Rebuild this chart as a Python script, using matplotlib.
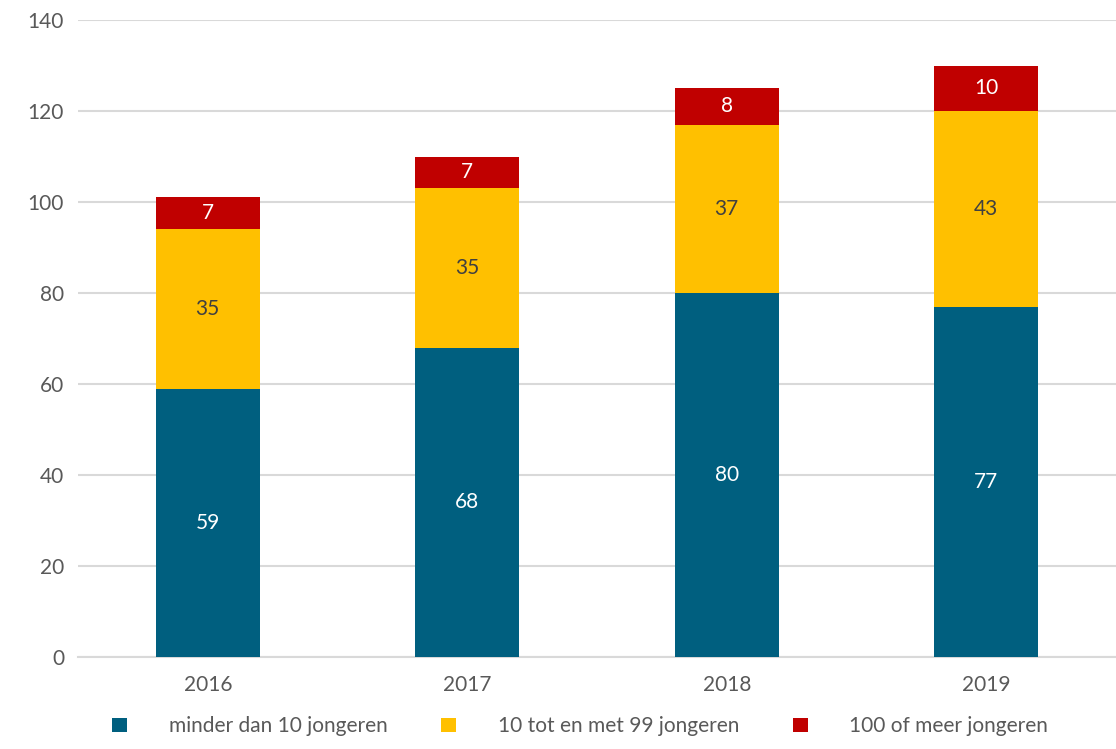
import numpy as np
import matplotlib.pyplot as plt
from matplotlib.patches import Patch

# Data
years = ['2016', '2017', '2018', '2019']
minder_10 = [59, 68, 80, 77]
tien_99 = [35, 35, 37, 43]
honderd_plus = [7, 7, 8, 10]
series_names = ['minder dan 10 jongeren', '10 tot en met 99 jongeren', '100 of meer jongeren']

colors = ['#005F7F', '#FFC000', '#C00000']
label_colors = ['white', '#404040', 'white']

plt.rcParams['font.family'] = ['Lato', 'DejaVu Sans']

fig = plt.figure(figsize=(11.16, 7.49), dpi=100)
ax = fig.add_axes([0.0699, 0.1228, 0.9301, 0.8505])

x = np.arange(len(years))
width = 0.40
bottom = np.zeros(len(years))
for vals, col, lcol in zip([minder_10, tien_99, honderd_plus], colors, label_colors):
    bars = ax.bar(x, vals, width, bottom=bottom, color=col, zorder=3)
    for b, v in zip(bars, vals):
        ax.text(b.get_x() + b.get_width() / 2, b.get_y() + b.get_height() / 2, str(v),
                ha='center', va='center', color=lcol, fontsize=15, zorder=4)
    bottom += np.array(vals)

ax.set_xlim(-0.5, 3.5)
ax.set_ylim(0, 140)
ax.set_yticks(range(0, 141, 20))
ax.set_xticks(x)
ax.set_xticklabels(years)
ax.yaxis.grid(True, color='#D9D9D9', linewidth=1.5, zorder=0)
ax.set_axisbelow(True)
for s in ['top', 'right', 'left']:
    ax.spines[s].set_visible(False)
ax.spines['bottom'].set_color('#D9D9D9')
ax.spines['bottom'].set_linewidth(1.5)
ax.tick_params(axis='both', length=0, labelsize=15, colors='#595959', pad=10)
ax.tick_params(axis='x', pad=13)

handles = [Patch(facecolor=c) for c in colors]
leg = fig.legend(handles, series_names, loc='lower center', bbox_to_anchor=(0.52, -0.008),
                 ncol=3, frameon=False, fontsize=15, handlelength=0.7, handleheight=0.7,
                 columnspacing=2.6, handletextpad=2.0)
for t in leg.get_texts():
    t.set_color('#595959')

fig.savefig('out.png', dpi=100)
